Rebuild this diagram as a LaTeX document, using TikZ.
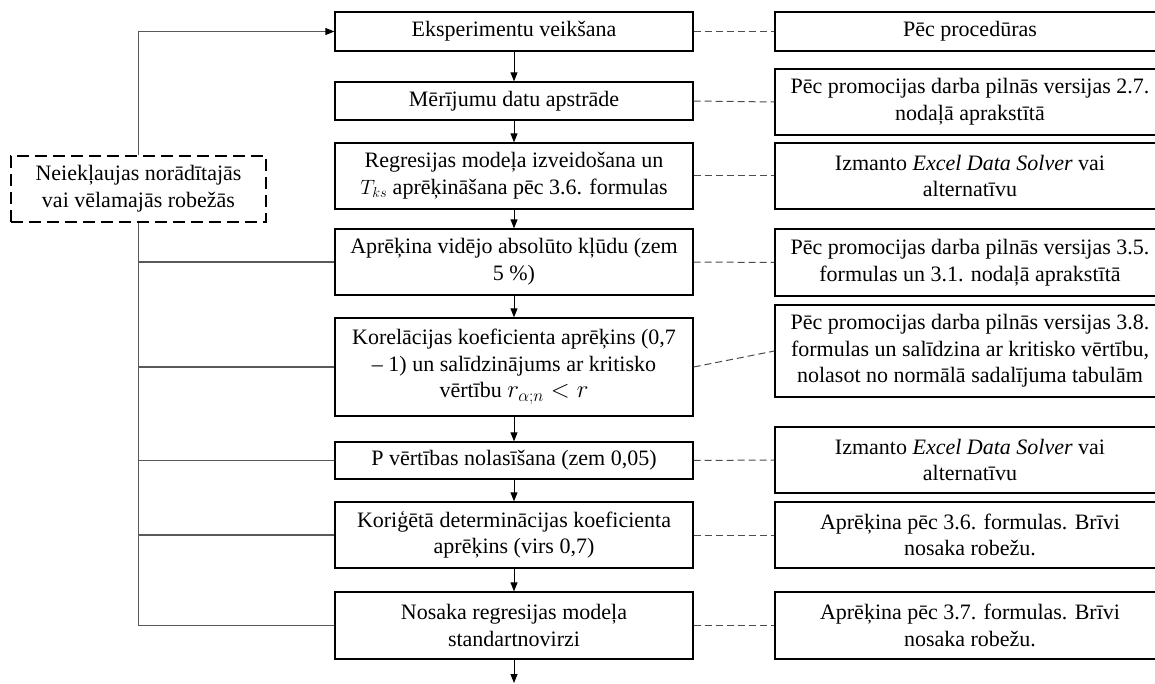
\documentclass[tikz,border=0pt]{standalone}
\usepackage{fontspec}
\setmainfont{Liberation Serif}
\usetikzlibrary{arrows.meta}
\begin{document}
\begin{tikzpicture}[x=1pt,y=-1pt,
  every node/.style={font=\fontsize{22}{26.7}\selectfont, align=center, inner sep=0pt},
  lbox/.style={draw, line width=1.3pt, minimum width=358pt},
  rbox/.style={draw, line width=1.3pt, minimum width=390pt},
  nbox/.style={draw, line width=1.3pt, dash pattern=on 12pt off 6pt, minimum width=255pt, minimum height=66pt},
  flow/.style={draw, line width=0.9pt, -{Triangle[length=9pt,width=7pt]}},
  link/.style={draw=black!70, line width=1pt, dash pattern=on 7pt off 4pt},
  back/.style={draw=black!65, line width=1.1pt}
]
\useasboundingbox (0,0) rectangle (1155,684);

\node[lbox, minimum height=39pt] (l1) at (514,31.5) {Eksperimentu veikšana};
\node[lbox, minimum height=38pt] (l2) at (514,101) {Mērījumu datu apstrāde};
\node[lbox, minimum height=66pt] (l3) at (514,176) {Regresijas modeļa izveidošana un\\ $T_{ks}$ aprēķināšana pēc 3.6. formulas};
\node[lbox, minimum height=66pt] (l4) at (514,262) {Aprēķina vidējo absolūto kļūdu (zem\\ 5 \%)};
\node[lbox, minimum height=98pt] (l5) at (514,367) {Korelācijas koeficienta aprēķins (0,7\\ – 1) un salīdzinājums ar kritisko\\ vērtību {\fontsize{26}{26.7}\selectfont$r_{\alpha;n} < r$}};
\node[lbox, minimum height=37pt] (l6) at (514,460.5) {P vērtības nolasīšana (zem 0,05)};
\node[lbox, minimum height=66pt] (l7) at (514,535) {Koriģētā determinācijas koeficienta\\ aprēķins (virs 0,7)};
\node[lbox, minimum height=67pt] (l8) at (514,625.5) {Nosaka regresijas modeļa\\ standartnovirzi};

\node[rbox, minimum height=39pt] (r1) at (970,31.5) {Pēc procedūras};
\node[rbox, minimum height=66pt] (r2) at (970,102) {Pēc promocijas darba pilnās versijas 2.7.\\ nodaļā aprakstītā};
\node[rbox, minimum height=66pt] (r3) at (970,176) {Izmanto \textit{Excel Data Solver} vai\\ alternatīvu};
\node[rbox, minimum height=67pt] (r4) at (970,262.5) {Pēc promocijas darba pilnās versijas 3.5.\\ formulas un 3.1. nodaļā aprakstītā};
\node[rbox, minimum height=92pt] (r5) at (970,351) {Pēc promocijas darba pilnās versijas 3.8.\\ formulas un salīdzina ar kritisko vērtību,\\ nolasot no normālā sadalījuma tabulām};
\node[rbox, minimum height=66pt] (r6) at (970,460) {Izmanto \textit{Excel Data Solver} vai\\ alternatīvu};
\node[rbox, minimum height=66pt] (r7) at (970,535) {Aprēķina pēc 3.6. formulas. Brīvi\\ nosaka robežu.};
\node[rbox, minimum height=67pt] (r8) at (970,625.5) {Aprēķina pēc 3.7. formulas. Brīvi\\ nosaka robežu.};

\node[nbox] (nb) at (138.5,189) {Neiekļaujas norādītajās\\ vai vēlamajās robežās};

\coordinate (end) at (514,683);
\foreach \a/\b in {l1/l2,l2/l3,l3/l4,l4/l5,l5/l6,l6/l7,l7/l8,l8/end}
  \draw[flow] (\a) -- (\b);

\foreach \i in {1,...,8}
  \draw[link] (l\i.east) -- (r\i.west);

\draw[back, -{Triangle[length=9pt,width=7pt,color=black]}] (nb.north) |- (l1.west);
\draw[back] (nb.south) |- (l8.west);
\foreach \i in {4,...,7}
  \draw[back] (nb.south |- l\i.west) -- (l\i.west);
\end{tikzpicture}
\end{document}
